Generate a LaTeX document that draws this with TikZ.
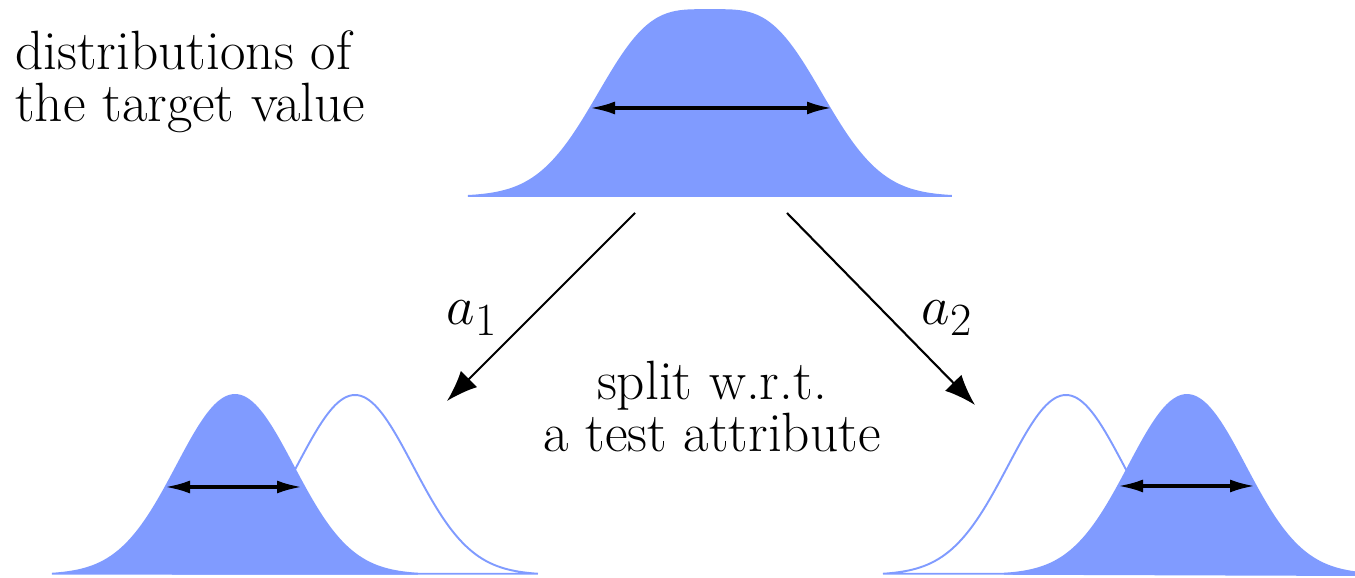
\documentclass[tikz,border=0pt]{standalone}
\usetikzlibrary{arrows.meta}
\definecolor{distblue}{RGB}{128,155,255}
\newcommand\bigfont{\fontsize{31.5}{29.6}\selectfont}
\newcommand\bigmath[1]{\scalebox{1.266}{$#1$}}
\begin{document}
\begin{tikzpicture}[every node/.style={font=\bigfont, inner sep=0pt},
declare function={g(\x)=exp(-(\x)^2/2.6912);},
dist/.style={draw=distblue, line width=1.1pt},
distfill/.style={dist, fill=distblue},
spread/.style={{Latex[length=5mm,width=2.6mm]}-{Latex[length=5mm,width=2.6mm]}, line width=1.9pt},
branch/.style={-{Latex[length=6.2mm,width=4.6mm]}, line width=1.2pt}]
\useasboundingbox (0,0) rectangle (27.1,11.56);
% parent distribution
\draw[distfill] plot[domain=9.36:19.04, samples=120, smooth] (\x,{7.62+3.08*(g(\x-13.04)+g(\x-15.36))}) -- cycle;
\coordinate (topL) at (11.8,9.4);
\coordinate (topR) at (16.64,9.4);
\draw[spread] (topL) -- (topR);
% left child
\draw[dist] plot[domain=3.44:10.76, samples=100, smooth] (\x,{0.06+3.6*g(\x-7.1)}) -- cycle;
\draw[distfill] plot[domain=1.04:8.36, samples=100, smooth] (\x,{0.06+3.6*g(\x-4.7)}) -- cycle;
\coordinate (leftL) at (3.3,1.82);
\coordinate (leftR) at (6.04,1.82);
\draw[spread] (leftL) -- (leftR);
% right child
\draw[dist] plot[domain=17.66:24.98, samples=100, smooth] (\x,{0.06+3.6*g(\x-21.32)}) -- cycle;
\draw[distfill] plot[domain=20.08:27.1, samples=100, smooth] (\x,{0.06+3.6*g(\x-23.74)}) -- (27.1,0.06) -- cycle;
\coordinate (rightL) at (22.36,1.84);
\coordinate (rightR) at (25.1,1.84);
\draw[spread] (rightL) -- (rightR);
% branches
\coordinate (br1s) at (12.7,7.3);
\coordinate (br1e) at (8.94,3.54);
\coordinate (br2s) at (15.74,7.3);
\coordinate (br2e) at (19.5,3.46);
\draw[branch] (br1s) -- (br1e);
\draw[branch] (br2s) -- (br2e);
\node (a1) at (9.44,5.2) {\bigmath{a_1}};
\node (a2) at (18.94,5.2) {\bigmath{a_2}};
% texts
\node[align=left, anchor=west] (title) at (0.3,9.92) {distributions of\\the target value};
\node[align=center] (split) at (14.24,3.43) {split w.r.t.\\a test attribute};
\end{tikzpicture}
\end{document}
